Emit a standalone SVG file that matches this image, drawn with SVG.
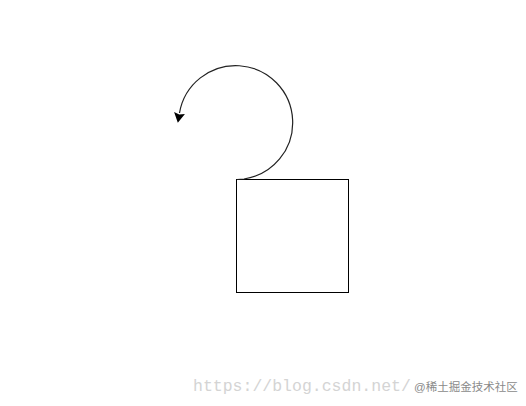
<svg xmlns="http://www.w3.org/2000/svg" width="526" height="406" viewBox="0 0 526 406">
<defs>
<style>
.shape{fill:none;stroke:#000;stroke-width:1}
.arc{fill:none;stroke:#222;stroke-width:1.2}
.wm{font-family:"Liberation Mono",monospace;font-size:16.5px;fill:#d4d4d4}
.wm2{font-family:"Liberation Sans","Noto Sans CJK SC",sans-serif;font-size:11.5px;fill:#8a8a8a}
</style>
<marker id="ah" markerWidth="10" markerHeight="12" refX="0" refY="6" orient="auto" markerUnits="userSpaceOnUse">
<path d="M0,0.5 L10,6 L0,11.5 L1.5,6 Z" fill="#000"/>
</marker>
</defs>
<rect width="526" height="406" fill="#fff"/>
<g id="square">
<rect class="shape" x="236.5" y="179.5" width="112" height="113"/>
</g>
<g id="connectors">
<path class="arc" d="M237,179.5 L244,179 A57,57 0 1 0 179.5,113" marker-end="url(#ah)"/>
</g>
<g id="watermark">
<text class="wm" x="193" y="391">https://blog.csdn.net/</text>
<text class="wm2" x="414" y="391">@稀土掘金技术社区</text>
</g>
</svg>
